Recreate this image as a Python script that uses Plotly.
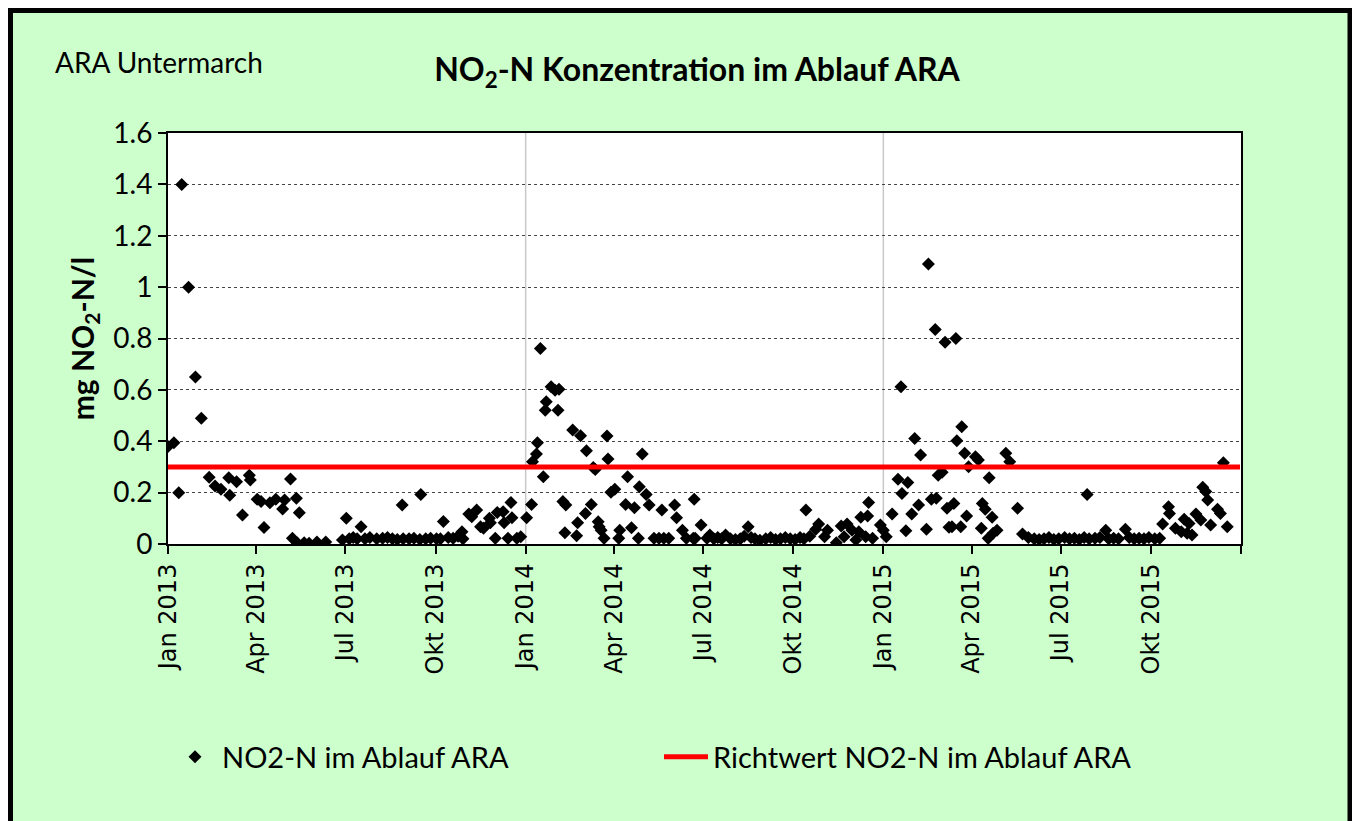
import plotly.graph_objects as go

# NO2-N measurements (mg/l), read per year
dates_2013 = ["2013-01-01", "2013-01-07", "2013-01-12", "2013-01-15", "2013-01-22", "2013-01-29",
              "2013-02-04", "2013-02-12", "2013-02-18", "2013-02-24", "2013-03-04", "2013-03-05",
              "2013-03-12", "2013-03-18", "2013-03-25", "2013-03-26", "2013-04-02", "2013-04-06",
              "2013-04-09", "2013-04-15", "2013-04-21", "2013-04-28", "2013-04-30", "2013-05-06",
              "2013-05-08", "2013-05-12", "2013-05-13", "2013-05-15", "2013-05-20", "2013-05-25",
              "2013-06-02", "2013-06-11", "2013-06-28", "2013-07-02", "2013-07-05", "2013-07-09",
              "2013-07-13", "2013-07-17", "2013-07-21", "2013-07-26", "2013-08-02", "2013-08-08",
              "2013-08-13", "2013-08-18", "2013-08-23", "2013-08-28", "2013-08-29", "2013-09-04",
              "2013-09-09", "2013-09-15", "2013-09-16", "2013-09-21", "2013-09-26", "2013-10-02",
              "2013-10-06", "2013-10-09", "2013-10-14", "2013-10-19", "2013-10-24", "2013-10-28",
              "2013-10-29", "2013-11-04", "2013-11-07", "2013-11-12", "2013-11-16", "2013-11-19",
              "2013-11-25", "2013-11-26", "2013-12-01", "2013-12-03", "2013-12-09", "2013-12-10",
              "2013-12-14", "2013-12-17", "2013-12-18", "2013-12-23", "2013-12-27"]
values_2013 = [0.38, 0.394, 0.20, 1.40, 1.00, 0.65,
               0.49, 0.26, 0.226, 0.213, 0.258, 0.19,
               0.242, 0.113, 0.268, 0.249, 0.174, 0.165,
               0.064, 0.161, 0.174, 0.136, 0.171, 0.253,
               0.022, 0.178, 0.004, 0.122, 0.005, 0.003,
               0.008, 0.008, 0.016, 0.10, 0.02, 0.025,
               0.02, 0.067, 0.02, 0.025, 0.02, 0.022,
               0.025, 0.02, 0.018, 0.152, 0.02, 0.02,
               0.022, 0.018, 0.193, 0.02, 0.022, 0.02,
               0.02, 0.088, 0.025, 0.022, 0.03, 0.048,
               0.02, 0.117, 0.106, 0.132, 0.067, 0.061,
               0.10, 0.083, 0.022, 0.123, 0.126, 0.083,
               0.022, 0.162, 0.102, 0.022, 0.028]

dates_2014 = ["2014-01-02", "2014-01-07", "2014-01-08", "2014-01-12", "2014-01-13", "2014-01-16",
              "2014-01-19", "2014-01-21", "2014-01-22", "2014-01-27", "2014-01-31", "2014-02-03",
              "2014-02-04", "2014-02-08", "2014-02-10", "2014-02-11", "2014-02-18", "2014-02-23",
              "2014-02-22", "2014-02-26", "2014-03-03", "2014-03-04", "2014-03-09", "2014-03-11",
              "2014-03-13", "2014-03-16", "2014-03-17", "2014-03-19", "2014-03-22", "2014-03-25",
              "2014-03-26", "2014-03-29", "2014-04-02", "2014-04-07", "2014-04-06", "2014-04-13",
              "2014-04-15", "2014-04-19", "2014-04-22", "2014-04-26", "2014-04-27", "2014-04-30",
              "2014-05-04", "2014-05-07", "2014-05-12", "2014-05-17", "2014-05-20", "2014-05-22",
              "2014-05-27", "2014-06-02", "2014-06-04", "2014-06-10", "2014-06-14", "2014-06-21",
              "2014-06-22", "2014-06-23", "2014-06-29", "2014-07-05", "2014-07-08", "2014-07-12",
              "2014-07-16", "2014-07-20", "2014-07-24", "2014-07-29", "2014-08-03", "2014-08-08",
              "2014-08-12", "2014-08-16", "2014-08-19", "2014-08-23", "2014-08-28", "2014-09-03",
              "2014-09-08", "2014-09-13", "2014-09-18", "2014-09-23", "2014-09-28", "2014-10-03",
              "2014-10-08", "2014-10-14", "2014-10-12", "2014-10-18", "2014-10-24", "2014-10-27",
              "2014-11-02", "2014-11-05", "2014-11-14", "2014-11-19", "2014-11-22", "2014-11-25",
              "2014-11-30", "2014-12-04", "2014-12-07", "2014-12-09", "2014-12-14", "2014-12-16",
              "2014-12-17", "2014-12-21", "2014-12-29"]
values_2014 = [0.102, 0.154, 0.32, 0.35, 0.394, 0.761,
               0.262, 0.521, 0.554, 0.612, 0.599, 0.521,
               0.602, 0.165, 0.044, 0.152, 0.444, 0.083,
               0.032, 0.421, 0.119, 0.363, 0.154, 0.298,
               0.29, 0.087, 0.067, 0.054, 0.022, 0.42,
               0.331, 0.201, 0.213, 0.054, 0.022, 0.154,
               0.262, 0.063, 0.141, 0.022, 0.223, 0.35,
               0.193, 0.152, 0.022, 0.022, 0.132, 0.022,
               0.022, 0.152, 0.102, 0.054, 0.022, 0.022,
               0.174, 0.022, 0.074, 0.022, 0.035, 0.02,
               0.025, 0.02, 0.035, 0.02, 0.018, 0.02,
               0.03, 0.067, 0.025, 0.02, 0.015, 0.02,
               0.025, 0.018, 0.02, 0.025, 0.02, 0.018,
               0.025, 0.132, 0.02, 0.03, 0.057, 0.078,
               0.028, 0.054, 0.005, 0.07, 0.028, 0.078,
               0.054, 0.016, 0.048, 0.104, 0.028, 0.109,
               0.162, 0.022, 0.074]

dates_2015 = ["2015-01-01", "2015-01-04", "2015-01-10", "2015-01-16", "2015-01-19", "2015-01-20",
              "2015-01-24", "2015-01-26", "2015-01-30", "2015-02-02", "2015-02-06", "2015-02-08",
              "2015-02-14", "2015-02-16", "2015-02-19", "2015-02-23", "2015-02-24", "2015-02-26",
              "2015-03-02", "2015-03-05", "2015-03-07", "2015-03-09", "2015-03-12", "2015-03-14",
              "2015-03-16", "2015-03-17", "2015-03-21", "2015-03-22", "2015-03-25", "2015-03-27",
              "2015-03-29", "2015-04-05", "2015-04-08", "2015-04-11", "2015-04-12", "2015-04-15",
              "2015-04-18", "2015-04-19", "2015-04-22", "2015-04-23", "2015-04-27", "2015-05-06",
              "2015-05-10", "2015-05-18", "2015-05-23", "2015-05-29", "2015-06-04", "2015-06-09",
              "2015-06-14", "2015-06-19", "2015-06-24", "2015-06-29", "2015-07-05", "2015-07-10",
              "2015-07-15", "2015-07-20", "2015-07-25", "2015-07-28", "2015-07-30", "2015-08-05",
              "2015-08-10", "2015-08-16", "2015-08-19", "2015-08-24", "2015-08-29", "2015-09-05",
              "2015-09-09", "2015-09-14", "2015-09-19", "2015-09-24", "2015-09-29", "2015-10-05",
              "2015-10-10", "2015-10-13", "2015-10-19", "2015-10-20", "2015-10-26", "2015-11-01",
              "2015-11-04", "2015-11-07", "2015-11-09", "2015-11-12", "2015-11-16", "2015-11-21",
              "2015-11-23", "2015-11-26", "2015-11-28", "2015-12-01", "2015-12-08", "2015-12-11",
              "2015-12-14", "2015-12-18"]
values_2015 = [0.054, 0.028, 0.117, 0.252, 0.612, 0.197,
               0.052, 0.239, 0.117, 0.411, 0.152, 0.346,
               0.057, 1.09, 0.174, 0.835, 0.178, 0.268,
               0.279, 0.785, 0.139, 0.065, 0.067, 0.158,
               0.80, 0.402, 0.067, 0.456, 0.353, 0.109,
               0.301, 0.34, 0.327, 0.061, 0.158, 0.135,
               0.022, 0.258, 0.104, 0.042, 0.054, 0.353,
               0.32, 0.139, 0.039, 0.025, 0.02, 0.018,
               0.02, 0.025, 0.018, 0.02, 0.025, 0.02,
               0.022, 0.018, 0.025, 0.193, 0.02, 0.022,
               0.025, 0.054, 0.02, 0.022, 0.02, 0.057,
               0.025, 0.02, 0.022, 0.02, 0.025, 0.02,
               0.022, 0.078, 0.145, 0.119, 0.061, 0.048,
               0.096, 0.042, 0.08, 0.035, 0.117, 0.093,
               0.221, 0.204, 0.171, 0.074, 0.135, 0.119,
               0.316, 0.067]

# guide value (Richtwert)
richtwert_dates = ["2013-01-01", "2015-12-31"]
richtwert_values = [0.3, 0.3]

tick_dates = ["2013-01-01", "2013-04-01", "2013-07-01", "2013-10-01",
              "2014-01-01", "2014-04-01", "2014-07-01", "2014-10-01",
              "2015-01-01", "2015-04-01", "2015-07-01", "2015-10-01", "2016-01-01"]
tick_labels = ["Jan 2013", "Apr 2013", "Jul 2013", "Okt 2013",
               "Jan 2014", "Apr 2014", "Jul 2014", "Okt 2014",
               "Jan 2015", "Apr 2015", "Jul 2015", "Okt 2015", ""]
year_lines = ["2014-01-01", "2015-01-01"]

dates = dates_2013 + dates_2014 + dates_2015
values = values_2013 + values_2014 + values_2015

FONT = "Lato"
# plot area in page pixels (page has an 8px body margin)
PL, PR, PT, PB = 168, 1241, 133, 544
PW, PH = PR - PL, PB - PT


def px(x):
    return (x - PL) / PW


def py(y):
    return (PB - y) / PH


fig = go.Figure()
fig.add_trace(go.Scatter(x=dates, y=values, mode='markers', name='NO2-N im Ablauf ARA',
                         marker=dict(symbol='diamond', size=10, color='black')))
fig.add_trace(go.Scatter(x=richtwert_dates, y=richtwert_values, mode='lines',
                         name='Richtwert NO2-N im Ablauf ARA',
                         line=dict(color='#ff0000', width=5)))

for d in year_lines:
    fig.add_vline(x=d, line=dict(color='#c8c8c8', width=1.5), layer='below')

W, H = 1352, 813
fig.update_layout(
    width=W, height=H,
    autosize=False,
    margin=dict(l=PL - 8, r=W - (PR - 8), t=PT - 8, b=H - (PB - 8)),
    paper_bgcolor='#ccffcc',
    plot_bgcolor='white',
    font=dict(family=FONT, color='black'),
    title=dict(text='<b>NO<sub>2</sub>-N Konzentration im Ablauf ARA</b>',
               x=(697 - 8) / W, xanchor='center', y=1 - (70 - 8) / H, yanchor='middle',
               font=dict(size=32, family=FONT)),
    showlegend=True,
    legend=dict(orientation='h', x=0.0, xanchor='left', y=py(757), yanchor='middle',
                font=dict(size=29, family=FONT), bgcolor='rgba(0,0,0,0)',
                entrywidth=432, entrywidthmode='pixels', itemwidth=44),
)

fig.update_xaxes(
    type='date',
    range=['2013-01-01', '2016-01-01'],
    tickvals=tick_dates, ticktext=tick_labels,
    tickangle=-90,
    tickfont=dict(family='DejaVu Sans', size=24),
    ticks='outside', ticklen=8, tickcolor='black', tickwidth=1.5,
    showgrid=False, zeroline=False,
    showline=True, linecolor='black', linewidth=2, mirror=True,
)
fig.update_yaxes(
    range=[0, 1.6], dtick=0.2,
    tickformat='.1~f',
    tickfont=dict(size=28, family=FONT),
    ticks='outside', ticklen=8, tickcolor='black', tickwidth=1.5,
    showgrid=True, gridcolor='#444444', griddash='dot', gridwidth=1,
    zeroline=False,
    showline=True, linecolor='black', linewidth=2, mirror=True,
    title=dict(text='<b>mg NO<sub>2</sub>-N/l</b>', font=dict(size=30, family=FONT), standoff=10),
)

fig.add_annotation(text='ARA Untermarch', xref='paper', yref='paper',
                   x=px(53), y=py(62), xanchor='left', yanchor='middle',
                   showarrow=False, font=dict(size=28, family=FONT))

# outer black frame of the chart
fig.add_shape(type='rect', xref='paper', yref='paper',
              x0=px(10.5), x1=px(1350), y0=py(830), y1=py(10.5),
              line=dict(color='black', width=5), fillcolor='rgba(0,0,0,0)', layer='below')

fig.write_html("out.html")
